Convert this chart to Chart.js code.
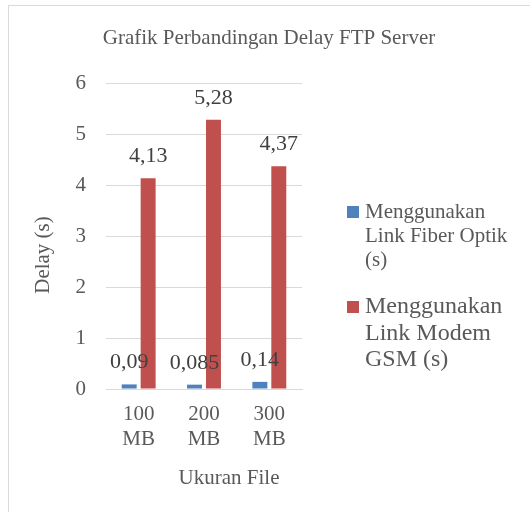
<!DOCTYPE html>
<html><head><meta charset="utf-8">
<script src="https://cdn.jsdelivr.net/npm/chart.js@4.4.0/dist/chart.umd.min.js"></script>
<style>html,body{margin:0;padding:0;background:#fff;}#wrap{position:absolute;left:0;top:0;width:530px;height:512px;}</style>
</head><body><div id="wrap"><canvas id="c" width="530" height="512"></canvas></div>
<script>
const categories = [["100","MB"],["200","MB"],["300","MB"]];
const fiberValues = [0.09, 0.085, 0.14];
const gsmValues = [4.13, 5.28, 4.37];
const fiberLabels = ["0,09","0,085","0,14"];
const gsmLabels = ["4,13","5,28","4,37"];
const seriesNames = [["Menggunakan","Link Fiber Optik","(s)"],["Menggunakan","Link Modem","GSM (s)"]];
const chartTitle = 'Grafik Perbandingan Delay FTP Server';
const xTitle = 'Ukuran File';
const yTitle = 'Delay (s)';
const FONT = "'Liberation Serif','Times New Roman',serif";
const TXT = '#595959';

const framePlugin = {
  id:'frame',
  beforeDraw(chart){
    const ctx = chart.ctx;
    ctx.save();
    ctx.fillStyle='#fff'; ctx.fillRect(0,0,chart.width,chart.height);
    ctx.strokeStyle='#d9d9d9'; ctx.lineWidth=1;
    ctx.strokeRect(8.5,5.5,540,540);
    ctx.restore();
  },
  afterDraw(chart){
    const ctx = chart.ctx;
    ctx.save();
    ctx.fillStyle=TXT;
    ctx.textAlign='center'; ctx.textBaseline='middle';
    ctx.font='21px '+FONT;
    ctx.fillText(chartTitle, 269, 38);
    ctx.fillText(xTitle, 229, 478);
    ctx.translate(43,255); ctx.rotate(-Math.PI/2);
    ctx.fillText(yTitle,0,0);
    ctx.restore();
  }
};
const labelPlugin = {
  id:'vals',
  afterDatasetsDraw(chart){
    const ctx = chart.ctx;
    ctx.save();
    ctx.font = '22px '+FONT;
    ctx.fillStyle = '#404040';
    ctx.textAlign='center'; ctx.textBaseline='alphabetic';
    const lbls=[fiberLabels,gsmLabels];
    chart.data.datasets.forEach((ds,i)=>{
      chart.getDatasetMeta(i).data.forEach((bar,j)=>{
        ctx.fillText(lbls[i][j], bar.x, bar.y-16);
      });
    });
    ctx.restore();
  }
};
const legendPlugin = {
  id:'customLegend',
  afterDraw(chart){
    const ctx = chart.ctx;
    ctx.save();
    const items=[{y:212,size:21,lh:24},{y:307,size:24,lh:26.5}];
    items.forEach((it,i)=>{
      const ds=chart.data.datasets[i];
      ctx.fillStyle=ds.backgroundColor;
      ctx.fillRect(347,it.y-6,12,12);
      ctx.fillStyle=TXT;
      ctx.font=it.size+'px '+FONT;
      ctx.textAlign='left'; ctx.textBaseline='middle';
      seriesNames[i].forEach((t,k)=>ctx.fillText(t,365,it.y+k*it.lh));
    });
    ctx.restore();
  }
};

new Chart(document.getElementById('c'),{
  type:'bar',
  data:{labels:categories,datasets:[
    {label:seriesNames[0].join(' '),data:fiberValues,backgroundColor:'#4F81BD',categoryPercentage:0.58,barPercentage:0.79},
    {label:seriesNames[1].join(' '),data:gsmValues,backgroundColor:'#C0504D',categoryPercentage:0.58,barPercentage:0.79}
  ]},
  options:{
    responsive:false,animation:false,
    layout:{padding:{left:0,right:228,top:83,bottom:0}},
    plugins:{legend:{display:false},tooltip:{enabled:false},title:{display:false}},
    scales:{
      y:{min:0,max:6,ticks:{stepSize:1,color:TXT,font:{family:FONT,size:21},padding:20},
        grid:{color:'#d9d9d9',drawTicks:false},border:{display:false},
        afterFit(s){s.width=106;}},
      x:{ticks:{color:TXT,font:{family:FONT,size:21,lineHeight:1.2},padding:13},
        grid:{display:false,drawTicks:false},border:{display:true,color:'#d9d9d9'},
        afterFit(s){s.height=123;}}
    }
  },
  plugins:[framePlugin,labelPlugin,legendPlugin]
});
</script></body></html>
